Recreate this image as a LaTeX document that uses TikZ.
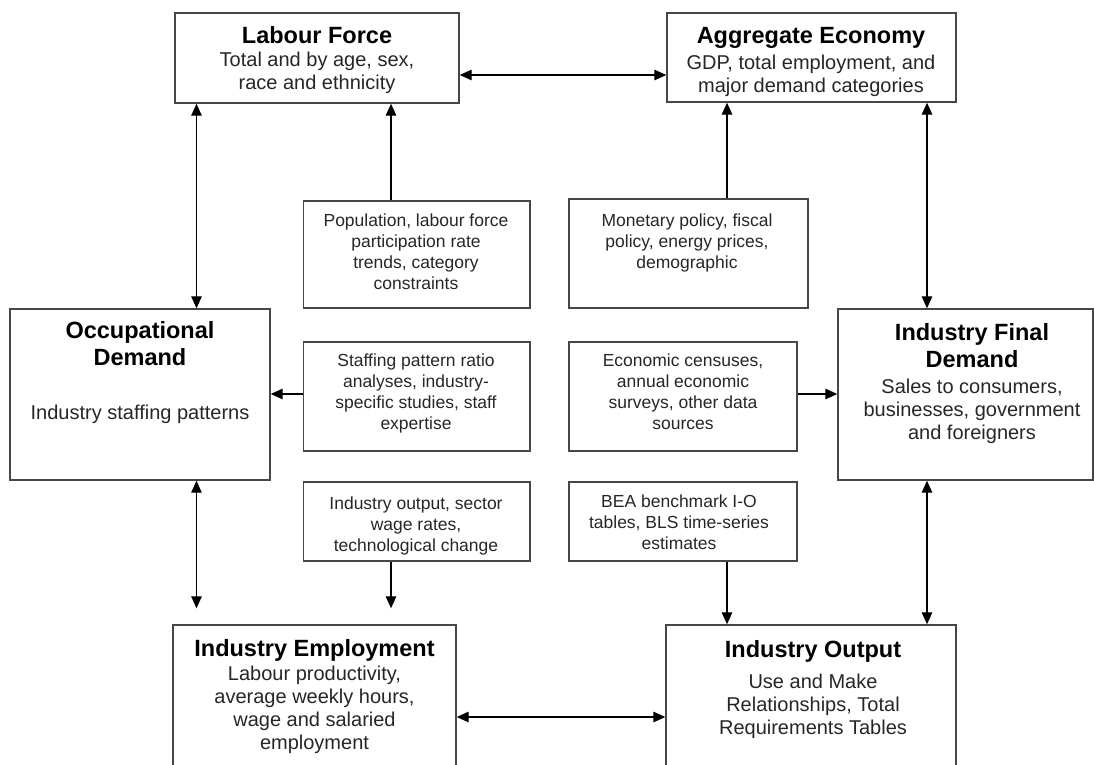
\documentclass[tikz,border=0pt]{standalone}
\usepackage{fontspec}
\setmainfont{Liberation Sans}
\usetikzlibrary{arrows.meta,positioning}

\begin{document}
\begin{tikzpicture}[x=1pt,y=-1pt,
        box/.style={draw=black!72, line width=1.4pt, inner sep=0pt},
        head/.style={font=\fontsize{23.5}{27}\selectfont\bfseries, align=center, inner sep=0pt, anchor=base},
        boxtext/.style={font=\fontsize{20}{23}\selectfont, text=black!85, align=center, inner sep=0pt, anchor=north},
        notetext/.style={font=\fontsize{17.5}{21}\selectfont, text=black!85, align=center, inner sep=0pt, anchor=north},
        onearrow/.style={-{Triangle[length=12pt,width=10.5pt]}, line width=1.3pt},
        twoarrow/.style={{Triangle[length=12pt,width=10.5pt]}-{Triangle[length=12pt,width=10.5pt]}, line width=1.3pt}]
    \useasboundingbox (0,0) rectangle (1094,764);
    \clip (0,0) rectangle (1094,764);

    % main boxes
    \node[box, minimum width=284, minimum height=90] (lab) at (317,58) {};
    \node[head] (labt) at (317,43) {Labour Force};
    \node[boxtext] (labb) at (317,51.4) {Total and by age, sex,\\race and ethnicity};

    \node[box, minimum width=289, minimum height=89] (agg) at (811.5,57.5) {};
    \node[head] (aggt) at (811,43) {Aggregate Economy};
    \node[boxtext] (aggb) at (811,54.4) {GDP, total employment, and\\major demand categories};

    \node[box, minimum width=260, minimum height=171] (occ) at (140,394.5) {};
    \node[head, anchor=north] (occt) at (140,321.3) {Occupational\\Demand};
    \node[boxtext] (occb) at (140,404.4) {Industry staffing patterns};

    \node[box, minimum width=255, minimum height=171] (ifd) at (965.5,394.5) {};
    \node[head, anchor=north] (ifdt) at (972,322.8) {Industry Final\\Demand};
    \node[boxtext] (ifdb) at (972,378.4) {Sales to consumers,\\businesses, government\\and foreigners};

    \node[box, minimum width=283, minimum height=165] (ie) at (314.5,707.5) {};
    \node[head] (iet) at (314.5,656) {Industry Employment};
    \node[boxtext] (ieb) at (314.5,666) {Labour productivity,\\average weekly hours,\\wage and salaried\\employment};

    \node[box, minimum width=290, minimum height=165] (io) at (811,707.5) {};
    \node[head] (iot) at (813,657) {Industry Output};
    \node[boxtext] (iob) at (813,673.4) {Use and Make\\Relationships, Total\\Requirements Tables};

    % driver boxes
    \node[box, minimum width=226.5, minimum height=107] (pop) at (416.75,254.5) {};
    \node[notetext] (popt) at (416,213.5) {Population, labour force\\participation rate\\trends, category\\constraints};

    \node[box, minimum width=239, minimum height=109] (mon) at (688.5,253.5) {};
    \node[notetext] (mont) at (687,213.5) {Monetary policy, fiscal\\policy, energy prices,\\demographic};

    \node[box, minimum width=226.5, minimum height=109] (staff) at (416.75,396.5) {};
    \node[notetext] (stafft) at (416,353.5) {Staffing pattern ratio\\analyses, industry-\\specific studies, staff\\expertise};

    \node[box, minimum width=228, minimum height=109] (econ) at (683,396.5) {};
    \node[notetext] (econt) at (683,353.5) {Economic censuses,\\annual economic\\surveys, other data\\sources};

    \node[box, minimum width=226.5, minimum height=79] (indo) at (416.75,521.5) {};
    \node[notetext] (indot) at (416,496.5) {Industry output, sector\\wage rates,\\technological change};

    \node[box, minimum width=228, minimum height=79] (bea) at (683,521.5) {};
    \node[notetext] (beat) at (679,494.5) {BEA benchmark I-O\\tables, BLS time-series\\estimates};

    % arrow lanes
    \coordinate (xa) at (196.5,0);
    \coordinate (xb) at (391,0);
    \coordinate (xc) at (727,0);
    \coordinate (xd) at (927,0);
    \coordinate (ya) at (0,75);
    \coordinate (yb) at (0,394);
    \coordinate (yc) at (0,717);

    \draw[twoarrow] (lab.east |- ya) -- (agg.west |- ya);
    \draw[twoarrow] (lab.south -| xa) -- (occ.north -| xa);
    \draw[onearrow] (pop.north -| xb) -- (lab.south -| xb);
    \draw[onearrow] (mon.north -| xc) -- (agg.south -| xc);
    \draw[twoarrow] (agg.south -| xd) -- (ifd.north -| xd);
    \draw[onearrow] (staff.west |- yb) -- (occ.east |- yb);
    \draw[onearrow] (econ.east |- yb) -- (ifd.west |- yb);
    \draw[twoarrow, shorten >=16pt] (occ.south -| xa) -- (ie.north -| xa);
    \draw[onearrow, shorten >=16pt] (indo.south -| xb) -- (ie.north -| xb);
    \draw[onearrow] (bea.south -| xc) -- (io.north -| xc);
    \draw[twoarrow] (ifd.south -| xd) -- (io.north -| xd);
    \draw[twoarrow] (ie.east |- yc) -- (io.west |- yc);
\end{tikzpicture}
\end{document}
